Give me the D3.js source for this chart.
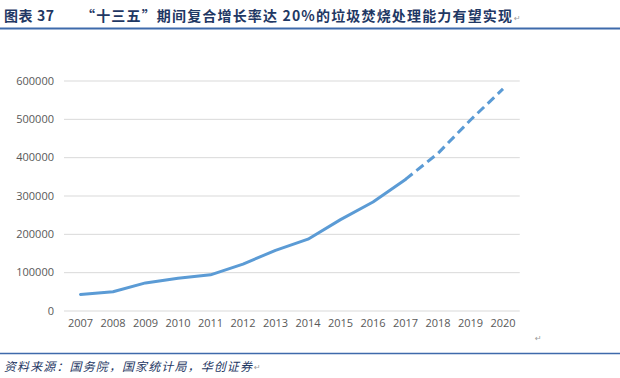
<!DOCTYPE html>
<html><head><meta charset="utf-8">
<script src="https://cdn.jsdelivr.net/npm/d3@7"></script>
<style>
html,body{margin:0;padding:0;background:#fff;}
svg{display:block;}
</style></head>
<body>
<svg id="c" width="620" height="378"></svg>
<script>
const years = ["2007","2008","2009","2010","2011","2012","2013","2014","2015","2016","2017","2018","2019","2020"];
const capacity = [42000,49000,72000,84000,93000,121000,157000,186000,237000,283000,342000,410000,497000,578000];
const solidUntil = "2017";
const yTicks = [0,100000,200000,300000,400000,500000,600000];
const titleText = "图表 37";
const titleMain = "“十三五”期间复合增长率达 20%的垃圾焚烧处理能力有望实现";
const sourceText = "资料来源：国务院，国家统计局，华创证券";

const svg = d3.select("#c");
const x = d3.scaleBand().domain(years).range([64.25, 519.25]);
const y = d3.scaleLinear().domain([0, 600000]).range([310.5, 80.5]);
const cx = d => x(d) + x.bandwidth()/2;

// header
svg.append("text").attr("x",4).attr("y",21)
  .attr("font-family","'Noto Sans CJK SC'").attr("font-weight",700)
  .attr("font-size",14).attr("fill","#1f3864")
  .attr("textLength",50).attr("lengthAdjust","spacing").text(titleText);
svg.append("text").attr("x",81).attr("y",21)
  .attr("font-family","'Noto Sans CJK SC'").attr("font-weight",700)
  .attr("font-size",14).attr("fill","#1f3864")
  .attr("textLength",431).attr("lengthAdjust","spacing").text(titleMain);
svg.append("text").attr("x",514).attr("y",21).attr("font-family","DejaVu Sans")
  .attr("font-size",8).attr("fill","#9a9a9a").text("↵");
svg.append("line").attr("x1",0).attr("x2",620).attr("y1",28.5).attr("y2",28.5)
  .attr("stroke","#3e6aab").attr("stroke-width",2);

// grid + y axis
const yAxis = d3.axisLeft(y).tickValues(yTicks).tickSize(-(519.75-64)).tickPadding(10).tickFormat(d3.format("d"));
const gy = svg.append("g").attr("transform","translate(64,0)").call(yAxis);
gy.select(".domain").remove();
gy.selectAll(".tick line").attr("stroke","#d9d9d9").attr("stroke-width",1);
gy.selectAll(".tick text").attr("fill","#595959").attr("font-family","'Open Sans'").attr("font-size",11);

// x axis
const xAxis = d3.axisBottom(x).tickSize(0).tickPadding(9);
const gx = svg.append("g").attr("transform","translate(0,310.5)").call(xAxis);
gx.select(".domain").remove();
gx.selectAll(".tick text").attr("fill","#595959").attr("font-family","'Open Sans'").attr("font-size",11);

// line
const pts = years.map((yr,i)=>({yr, v:capacity[i]}));
const idx = years.indexOf(solidUntil);
const line = d3.line().x(d=>cx(d.yr)).y(d=>y(d.v));
svg.append("path").datum(pts.slice(0, idx+1)).attr("d", line)
  .attr("fill","none").attr("stroke","#5b9bd5").attr("stroke-width",3)
  .attr("stroke-linejoin","round").attr("stroke-linecap","round");
svg.append("path").datum(pts.slice(idx)).attr("d", line)
  .attr("fill","none").attr("stroke","#5b9bd5").attr("stroke-width",3)
  .attr("stroke-dasharray","9,5").attr("stroke-linejoin","round");

svg.append("text").attr("x",535).attr("y",341).attr("font-family","DejaVu Sans")
  .attr("font-size",8).attr("fill","#9a9a9a").text("↵");

// footer
svg.append("line").attr("x1",0).attr("x2",620).attr("y1",353.5).attr("y2",353.5)
  .attr("stroke","#3e6aab").attr("stroke-width",1.5);
svg.append("text").attr("x",4).attr("y",371)
  .attr("font-family","'Noto Sans CJK SC'").attr("font-style","italic")
  .attr("font-size",12).attr("fill","#1f3864")
  .attr("textLength",248).attr("lengthAdjust","spacing").text(sourceText);
svg.append("text").attr("x",254).attr("y",370).attr("font-family","DejaVu Sans")
  .attr("font-size",8).attr("fill","#9a9a9a").text("↵");
</script>
</body></html>
